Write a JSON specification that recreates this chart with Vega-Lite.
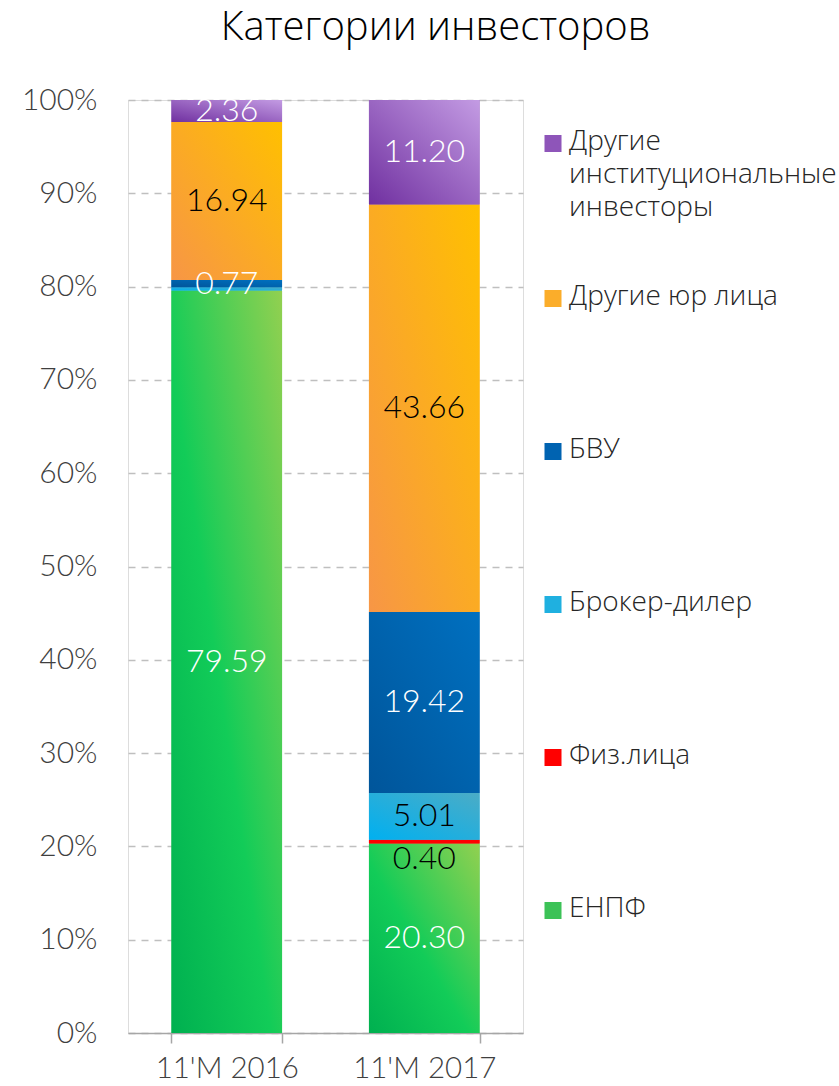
{
  "$schema": "https://vega.github.io/schema/vega-lite/v6.json",
  "width": 395,
  "height": 933,
  "autosize": {"type": "none"},
  "padding": {"left": 128, "top": 100, "right": 316, "bottom": 53},
  "background": "white",
  "title": {
    "text": "Категории инвесторов",
    "anchor": "middle",
    "dx": 110,
    "offset": 19,
    "font": "Open Sans",
    "fontSize": 40,
    "fontWeight": 300,
    "color": "#000000"
  },
  "data": {
    "values": [
      {"period": "11'M 2016", "series": "ЕНПФ", "value": 79.59, "k": 1},
      {"period": "11'M 2016", "series": "Физ.лица", "value": 0, "k": 2},
      {"period": "11'M 2016", "series": "Брокер-дилер", "value": 0.34, "k": 3},
      {"period": "11'M 2016", "series": "БВУ", "value": 0.77, "k": 4},
      {"period": "11'M 2016", "series": "Другие юр лица", "value": 16.94, "k": 5},
      {"period": "11'M 2016", "series": "Другие институциональные инвесторы", "value": 2.36, "k": 6},
      {"period": "11'M 2017", "series": "ЕНПФ", "value": 20.30, "k": 1},
      {"period": "11'M 2017", "series": "Физ.лица", "value": 0.40, "k": 2},
      {"period": "11'M 2017", "series": "Брокер-дилер", "value": 5.01, "k": 3},
      {"period": "11'M 2017", "series": "БВУ", "value": 19.42, "k": 4},
      {"period": "11'M 2017", "series": "Другие юр лица", "value": 43.66, "k": 5},
      {"period": "11'M 2017", "series": "Другие институциональные инвесторы", "value": 11.20, "k": 6}
    ]
  },
  "encoding": {
    "x": {
      "field": "period",
      "type": "nominal",
      "scale": {"paddingInner": 0.44, "paddingOuter": 0.22},
      "axis": {
        "title": null,
        "labelAngle": 0,
        "labelFont": "Lato",
        "labelFontSize": 29.5,
        "labelFontWeight": 300,
        "labelColor": "#3f3f3f",
        "labelPadding": 11,
        "domainColor": "#a6a6a6",
        "domainWidth": 1.5,
        "tickColor": "#a6a6a6",
        "tickWidth": 1.5,
        "tickSize": 10,
        "tickBand": "extent"
      }
    },
    "y": {
      "field": "value",
      "type": "quantitative",
      "stack": "normalize",
      "axis": {
        "title": null,
        "format": ".0%",
        "values": [0, 0.1, 0.2, 0.3, 0.4, 0.5, 0.6, 0.7, 0.8, 0.9, 1],
        "domain": false,
        "ticks": false,
        "labelFont": "Lato",
        "labelFontSize": 30,
        "labelFontWeight": 300,
        "labelColor": "#3f3f3f",
        "labelPadding": 31,
        "gridColor": "#bfbfbf",
        "gridWidth": 1.5,
        "gridDash": [7, 6]
      }
    },
    "order": {"field": "k", "type": "quantitative"}
  },
  "layer": [
    {
      "mark": {"type": "bar"},
      "encoding": {
        "color": {
          "field": "series",
          "type": "nominal",
          "scale": {
            "domain": ["Другие институциональные инвесторы", "Другие юр лица", "БВУ", "Брокер-дилер", "Физ.лица", "ЕНПФ"],
            "range": ["#8e55b9", "#fbad2a", "#0063b1", "#1fb0e0", "#ff0000", "#3cc257"]
          },
          "legend": {
            "title": null,
            "orient": "none",
            "legendX": 411,
            "legendY": -33,
            "clipHeight": 153,
            "rowPadding": 0,
            "symbolType": "square",
            "symbolSize": 289,
            "symbolStrokeWidth": 0,
            "labelFont": "Open Sans",
            "labelFontSize": 28,
            "labelFontWeight": 300,
            "labelColor": "#262626",
            "labelLimit": 400,
            "labelOffset": 2,
            "labelBaseline": "alphabetic",
            "labelExpr": "datum.label == 'Другие институциональные инвесторы' ? ['Другие', 'институциональные', 'инвесторы'] : datum.label",
            "encode": {"labels": {"update": {"dy": {"value": 6}, "lineHeight": {"value": 33}}}}
          }
        }
      }
    },
    {
      "mark": {"type": "bar"},
      "encoding": {
        "detail": {"field": "series", "type": "nominal"},
        "color": {
          "condition": [
            {"test": "datum.series === 'ЕНПФ'", "value": {"gradient": "linear", "x1": 0, "y1": 1, "x2": 1, "y2": 0, "stops": [{"offset": 0, "color": "#00b050"}, {"offset": 0.45, "color": "#12cc58"}, {"offset": 1, "color": "#92d050"}]}},
            {"test": "datum.series === 'Физ.лица'", "value": "#ff0000"},
            {"test": "datum.series === 'Брокер-дилер'", "value": {"gradient": "linear", "x1": 0, "y1": 1, "x2": 1, "y2": 0, "stops": [{"offset": 0, "color": "#00b0f0"}, {"offset": 1, "color": "#4bacc6"}]}},
            {"test": "datum.series === 'БВУ'", "value": {"gradient": "linear", "x1": 0, "y1": 1, "x2": 1, "y2": 0, "stops": [{"offset": 0, "color": "#00559a"}, {"offset": 1, "color": "#0070c0"}]}},
            {"test": "datum.series === 'Другие юр лица'", "value": {"gradient": "linear", "x1": 0, "y1": 1, "x2": 1, "y2": 0, "stops": [{"offset": 0, "color": "#f79646"}, {"offset": 1, "color": "#ffc000"}]}}
          ],
          "value": {"gradient": "linear", "x1": 0, "y1": 1, "x2": 1, "y2": 0, "stops": [{"offset": 0, "color": "#7030a0"}, {"offset": 1, "color": "#c39be3"}]}
        }
      }
    },
    {
      "mark": {"type": "text", "font": "Lato", "fontSize": 32, "fontWeight": 300, "baseline": "middle"},
      "encoding": {
        "y": {"field": "value", "type": "quantitative", "stack": "normalize", "bandPosition": 0.5},
        "detail": {"field": "series", "type": "nominal"},
        "text": {
          "condition": {"test": "datum.value >= 0.5", "field": "value", "format": ".2f"},
          "value": ""
        },
        "color": {
          "condition": {"test": "datum.series === 'Другие юр лица' || datum.series === 'Брокер-дилер'", "value": "#000000"},
          "value": "#ffffff"
        }
      }
    },
    {
      "mark": {"type": "text", "font": "Lato", "fontSize": 32, "fontWeight": 300, "baseline": "middle", "dy": 17, "color": "#000000"},
      "encoding": {
        "y": {"field": "value", "type": "quantitative", "stack": "normalize", "bandPosition": 0.5},
        "detail": {"field": "series", "type": "nominal"},
        "text": {
          "condition": {"test": "datum.series === 'Физ.лица' && datum.value > 0", "field": "value", "format": ".2f"},
          "value": ""
        }
      }
    }
  ]
}
